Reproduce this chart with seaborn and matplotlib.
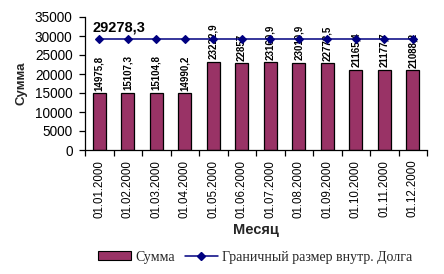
import matplotlib
matplotlib.use("Agg")
import matplotlib.pyplot as plt
import seaborn as sns
import pandas as pd
from matplotlib.ticker import FixedLocator
from matplotlib.patches import Patch
from matplotlib.lines import Line2D

months = ["01.01.2000", "01.02.2000", "01.03.2000", "01.04.2000", "01.05.2000",
          "01.06.2000", "01.07.2000", "01.08.2000", "01.09.2000", "01.10.2000",
          "01.11.2000", "01.12.2000"]
summa = [14975.8, 15107.3, 15104.8, 14990.2, 23222.9, 22857.0,
         23160.9, 23010.9, 22773.5, 21165.4, 21177.7, 21088.2]
limit_value = 29278.3
limit = [limit_value] * len(months)
y_ticks = [0, 5000, 10000, 15000, 20000, 25000, 30000, 35000]

sns.set_theme(style="white")
plt.rcParams["font.family"] = ["Liberation Sans", "DejaVu Sans"]

df = pd.DataFrame({"Месяц": months, "Сумма": summa, "Лимит": limit})

fig = plt.figure(figsize=(4.44, 2.74), dpi=100)
ax = fig.add_axes([85 / 444, 1 - 150 / 274, (427 - 85) / 444, (150 - 17) / 274])

bar_color = "#993366"
line_color = "#000080"

sns.barplot(data=df, x="Месяц", y="Сумма", color=bar_color, edgecolor="black",
            linewidth=0.9, width=0.46, saturation=1, ax=ax, zorder=2)
sns.pointplot(data=df, x="Месяц", y="Лимит", color=line_color, markers="D",
              linestyles="-", errorbar=None, ax=ax, markersize=4,
              linewidth=1.1, zorder=4)

def fmt(v):
    s = f"{v:.1f}"
    if s.endswith(".0"):
        s = s[:-2]
    return s.replace(".", ",")

for i, v in enumerate(summa):
    ax.text(i, v + 600, fmt(v), rotation=90, ha="center", va="bottom",
            fontsize=7, fontweight="bold", color="black", zorder=3)

ax.text(-0.22, 32200, fmt(limit_value), ha="left", va="center",
        fontsize=10.5, fontweight="bold", color="black")

ax.set_xlim(-0.5, len(months) - 0.5)
ax.set_ylim(0, 35000)
ax.set_yticks(y_ticks)
ax.set_yticklabels([str(t) for t in y_ticks], fontsize=9.8)
ax.set_xticks(range(len(months)))
ax.set_xticklabels(months, rotation=90, fontsize=8.3)
ax.xaxis.set_minor_locator(FixedLocator([i - 0.5 for i in range(len(months) + 1)]))
ax.tick_params(axis="x", which="major", length=0, pad=7, colors="black")
ax.tick_params(axis="x", which="minor", length=4, width=0.9, direction="out",
               color="black", bottom=True)
ax.tick_params(axis="y", length=4, width=0.9, direction="out", left=True,
               colors="black", pad=5)

for s in ["top", "right"]:
    ax.spines[s].set_visible(False)
for s in ["left", "bottom"]:
    ax.spines[s].set_color("black")
    ax.spines[s].set_linewidth(0.9)

ax.set_xlabel("Месяц", fontsize=10.5, fontweight="bold", labelpad=4)
ax.set_ylabel("Сумма", fontsize=9.5, fontweight="bold", labelpad=5)
ax.grid(False)

handles = [Patch(facecolor=bar_color, edgecolor="black", linewidth=0.8),
           Line2D([0], [0], color=line_color, marker="D", markersize=4, linewidth=1.1)]
leg = fig.legend(handles, ["Сумма", "Граничный размер внутр. Долга"],
                 loc="center", bbox_to_anchor=(255 / 444, 1 - 257 / 274), ncol=2,
                 frameon=False, prop={"family": "Liberation Serif", "size": 10},
                 handlelength=2.4, handleheight=0.6, columnspacing=0.7,
                 handletextpad=0.3)

fig.savefig("out.png", dpi=100)
